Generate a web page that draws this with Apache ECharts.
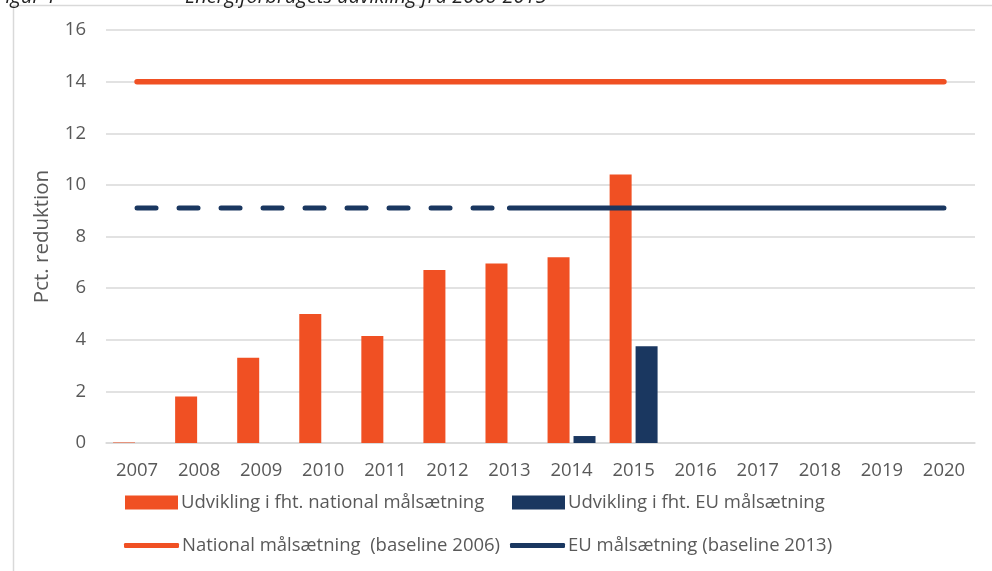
<!DOCTYPE html>
<html>
<head>
<meta charset="utf-8">
<script src="https://cdn.jsdelivr.net/npm/echarts@6/dist/echarts.min.js"></script>
<style>
  html, body { margin: 0; padding: 0; background: #fff; }
  #chart { width: 992px; height: 571px; }
</style>
</head>
<body>
<div id="chart"></div>
<script>
// Energiforbrugets udvikling – reduktion i pct.
const years = ['2007','2008','2009','2010','2011','2012','2013','2014','2015','2016','2017','2018','2019','2020'];
const nationalUdvikling = [0.02, 1.8, 3.3, 5.0, 4.15, 6.7, 6.95, 7.2, 10.4, null, null, null, null, null];
const euUdvikling = [null, null, null, null, null, null, null, 0.27, 3.75, null, null, null, null, null];
const nationalMaal = [14, 14, 14, 14, 14, 14, 14, 14, 14, 14, 14, 14, 14, 14];
const euMaalFoer = [9.1, 9.1, 9.1, 9.1, 9.1, 9.1, 9.1, null, null, null, null, null, null, null];
const euMaal = [null, null, null, null, null, null, 9.1, 9.1, 9.1, 9.1, 9.1, 9.1, 9.1, 9.1];
const yTicks = { min: 0, max: 16, interval: 2 };

const ORANGE = '#F05023';
const NAVY = '#1A3760';
const TEXT = '#595959';
const GRID = '#D9D9D9';
const FONT = 'Open Sans';

const names = {
  barNat: 'Udvikling i fht. national målsætning',
  barEu: 'Udvikling i fht. EU målsætning',
  lineNat: 'National målsætning  (baseline 2006)',
  lineEu: 'EU målsætning (baseline 2013)'
};

const legendText = { color: TEXT, fontSize: 18.5, fontFamily: FONT };
function legend(name, left, top, isLine) {
  return {
    data: [{ name: name, icon: isLine ? 'roundRect' : 'rect' }],
    left: left, top: top,
    itemWidth: isLine ? 55 : 53,
    itemHeight: isLine ? 5 : 14,
    itemGap: 0,
    padding: 0,
    textStyle: Object.assign({ padding: [0, 0, 0, -2] }, legendText),
    selectedMode: false
  };
}

const chart = echarts.init(document.getElementById('chart'), null, { renderer: 'canvas' });
chart.setOption({
  animation: false,
  backgroundColor: '#fff',
  textStyle: { fontFamily: FONT },
  graphic: [
    { type: 'line', shape: { x1: 13, y1: 5.5, x2: 992, y2: 5.5 }, style: { stroke: GRID, lineWidth: 1.5 }, silent: true },
    { type: 'line', shape: { x1: 13.5, y1: 5, x2: 13.5, y2: 571 }, style: { stroke: GRID, lineWidth: 1.5 }, silent: true },
    { type: 'text', left: -4, top: -13, style: { text: 'Figur 1', font: 'italic 20px "Open Sans"', fill: '#222' }, silent: true },
    { type: 'text', left: 185, top: -13, style: { text: 'Energiforbrugets udvikling fra 2006-2015', font: 'italic 20px "Open Sans"', fill: '#222' }, silent: true }
  ],
  legend: [
    legend(names.barNat, 125, 493, false),
    legend(names.barEu, 512, 493, false),
    legend(names.lineNat, 124, 536, true),
    legend(names.lineEu, 510, 536, true)
  ],
  grid: { left: 106, right: 17, top: 30, bottom: 128, containLabel: false },
  xAxis: {
    type: 'category',
    data: years,
    axisLine: { show: true, lineStyle: { color: GRID, width: 1.5 } },
    axisTick: { show: false },
    axisLabel: { color: TEXT, fontSize: 18.5, fontFamily: FONT, margin: 18 }
  },
  yAxis: {
    type: 'value',
    min: yTicks.min, max: yTicks.max, interval: yTicks.interval,
    name: 'Pct. reduktion',
    nameLocation: 'middle',
    nameGap: 53,
    nameRotate: 90,
    nameTextStyle: { color: TEXT, fontSize: 20.5, fontFamily: FONT },
    axisLine: { show: false },
    axisTick: { show: false },
    splitLine: { lineStyle: { color: GRID, width: 1.5 } },
    axisLabel: { color: TEXT, fontSize: 18.5, fontFamily: FONT, margin: 20 }
  },
  series: [
    {
      name: names.barNat, type: 'bar', data: nationalUdvikling,
      barWidth: 22, barGap: '18%',
      itemStyle: { color: ORANGE }
    },
    {
      name: names.barEu, type: 'bar', data: euUdvikling,
      barWidth: 22, barGap: '18%',
      itemStyle: { color: NAVY }
    },
    {
      name: names.lineNat, type: 'line', data: nationalMaal,
      symbol: 'none', z: 3,
      lineStyle: { color: ORANGE, width: 5.5, cap: 'round' },
      itemStyle: { color: ORANGE }
    },
    {
      name: 'EU målsætning 2007-2013', type: 'line', data: euMaalFoer,
      symbol: 'none', z: 3,
      lineStyle: { color: NAVY, width: 5, cap: 'round', type: [19, 23] },
      itemStyle: { color: NAVY }
    },
    {
      name: names.lineEu, type: 'line', data: euMaal,
      symbol: 'none', z: 3,
      lineStyle: { color: NAVY, width: 5, cap: 'round' },
      itemStyle: { color: NAVY }
    }
  ]
});
</script>
</body>
</html>
